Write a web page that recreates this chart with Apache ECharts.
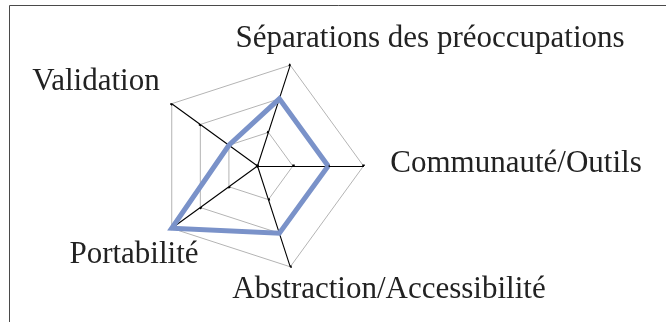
<!DOCTYPE html>
<html>
<head>
<meta charset="utf-8">
<style>
  html, body { margin: 0; padding: 0; background: #fff; }
  #chart { width: 666px; height: 322px; }
</style>
<script src="https://cdn.jsdelivr.net/npm/echarts@6/dist/echarts.min.js"></script>
</head>
<body>
<div id="chart"></div>
<script>
  // axes, counter-clockwise from the right
  const axes = ['Communauté/Outils', 'Séparations des préoccupations', 'Validation', 'Portabilité', 'Abstraction/Accessibilité'];
  const scores = [2, 2, 1, 3, 2];
  const maxScore = 3;

  // where each axis name sits (centre of text), px
  const labelPos = [[516, 164], [430, 39], [96, 82], [134, 255], [389, 290]];

  const font = '"Liberation Serif", "DejaVu Serif", serif';
  const chart = echarts.init(document.getElementById('chart'), null, { renderer: 'canvas' });

  const option = {
    animation: false,
    radar: {
      center: [257.5, 166],
      radius: 106,
      startAngle: 0,
      splitNumber: 3,
      shape: 'polygon',
      indicator: axes.map(name => ({ name: name, max: maxScore, min: 0 })),
      axisName: { show: false },
      axisLine: { lineStyle: { color: '#000', width: 1.1 } },
      axisTick: { show: true, length: 1.5, lineStyle: { color: '#000', width: 2.5 } },
      splitLine: { lineStyle: { color: '#b4b4b4', width: 1 } },
      splitArea: { show: false }
    },
    series: [{
      type: 'radar',
      symbol: 'none',
      lineStyle: { color: '#7a92c9', width: 5, join: 'miter' },
      data: [{ value: scores }]
    }],
    graphic: [
      {
        type: 'rect',
        shape: { x: 9.5, y: 5.5, width: 700, height: 400 },
        style: { fill: 'none', stroke: '#4a4a4a', lineWidth: 1 },
        silent: true
      }
    ].concat(axes.map((name, i) => ({
      type: 'text',
      x: labelPos[i][0],
      y: labelPos[i][1],
      style: {
        text: name,
        font: '31px ' + font,
        fill: '#222',
        align: 'center',
        verticalAlign: 'middle'
      }
    })))
  };

  chart.setOption(option);
</script>
</body>
</html>
